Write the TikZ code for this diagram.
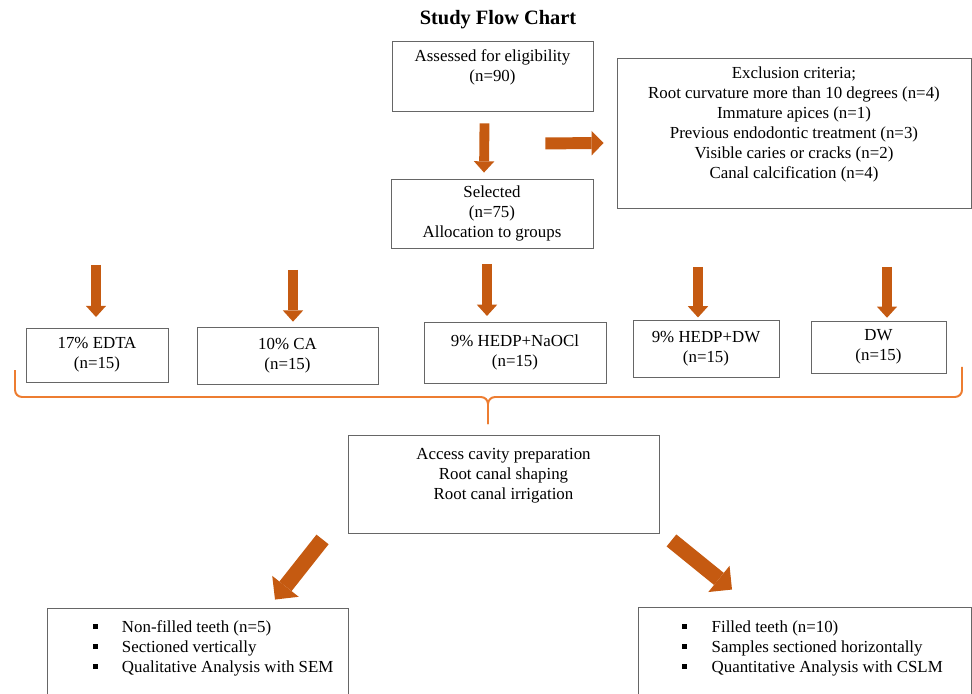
\documentclass[tikz,border=0pt]{standalone}
\usepackage{fontspec}
\setmainfont{Liberation Serif}
\usetikzlibrary{arrows.meta,calc}
\definecolor{arrowbrown}{HTML}{C55A11}
\definecolor{braceorange}{HTML}{ED7D31}
\newcommand{\sqbul}{\rule[2.4pt]{3.4pt}{3.4pt}}
\tikzset{
  box/.style={draw=black!60, line width=0.6pt, rectangle, align=center, inner sep=2pt, font=\fontsize{12}{14.2}\selectfont},
  txt/.style={font=\fontsize{12}{14.2}\selectfont, inner sep=0pt},
  fat/.style={draw=arrowbrown, line width=7pt, -{Triangle[width=14.5pt, length=8pt, line width=0pt]}},
  fatter/.style={draw=arrowbrown, line width=8.5pt, -{Triangle[width=17.5pt, length=8.5pt, line width=0pt]}},
  fattest/.style={draw=arrowbrown, line width=11pt, -{Triangle[width=24pt, length=12pt, line width=0pt]}},
  bracket/.style={draw=braceorange, line width=1.4pt, rounded corners=5pt}
}
\begin{document}
\begin{tikzpicture}[x=0.025cm, y=-0.025cm]
  \useasboundingbox (0,0) rectangle (972,694);
  \clip (0,0) rectangle (972,694);

  \node[font=\bfseries\fontsize{14.5}{17}\selectfont] (title) at (498,20) {Study Flow Chart};

  % screening
  \node[box, minimum width=50.25mm, minimum height=17.5mm] (assess) at (492.5,76) {Assessed for eligibility\\(n=90)\\\mbox{}};
  \node[box, minimum width=50.5mm, minimum height=17.25mm] (sel) at (492,213.5) {Selected\\(n=75)\\Allocation to groups};
  \node[box, minimum width=88.5mm, minimum height=37.5mm] (excl) at (794,133) {Exclusion criteria;\\Root curvature more than 10 degrees (n=4)\\Immature apices (n=1)\\Previous endodontic treatment (n=3)\\Visible caries or cracks (n=2)\\Canal calcification (n=4)\\\mbox{}};

  \draw[fat] ($(assess.south)+(-8,12)$) -- ($(sel.north)+(-8,-6)$);
  \draw[fatter] ($(assess.south east)+(-48,32)$) -- ($(excl.west)+(-13,10)$);

  % groups
  \node[box, minimum width=35.5mm, minimum height=13.5mm] (g1) at (97,355) {17\% EDTA\\(n=15)};
  \node[box, minimum width=45.25mm, minimum height=14.25mm] (g2) at (287.5,355.5) {10\% CA\\(n=15)};
  \node[box, minimum width=45.5mm, minimum height=15.25mm] (g3) at (515,352.5) {9\% HEDP+NaOCl\\(n=15)};
  \node[box, minimum width=36.5mm, minimum height=14.25mm] (g4) at (706,348.5) {9\% HEDP+DW\\(n=15)};
  \node[box, minimum width=33.75mm, minimum height=13mm] (g5) at (878.5,347) {DW\\(n=15)};

  \coordinate (d1) at (96,265);
  \coordinate (d2) at (293,270);
  \coordinate (d3) at (487,264);
  \coordinate (d4) at (698,267);
  \coordinate (d5) at (887,267);
  \draw[fat, shorten >=7.5pt] (d1) -- (d1 |- g1.north);
  \draw[fat, shorten >=3.5pt] (d2) -- (d2 |- g2.north);
  \draw[fat, shorten >=4pt] (d3) -- (d3 |- g3.north);
  \draw[fat, shorten >=1.5pt] (d4) -- (d4 |- g4.north);
  \draw[fat, shorten >=2pt] (d5) -- (d5 |- g5.north);

  % brace
  \draw[bracket] (15,370) |- (488,397) -- (488,424);
  \draw[bracket] (962,367) |- (488,397) -- (488,424);

  % procedure
  \node[box, minimum width=77.75mm, minimum height=24.5mm] (access) at (503.5,484) {Access cavity preparation\\Root canal shaping\\Root canal irrigation\\\mbox{}};

  \node[box, minimum width=75.25mm, minimum height=33mm] (lbox) at (197.5,674) {};
  \node[box, minimum width=83.25mm, minimum height=33.25mm] (rbox) at (804.5,673.5) {};
  \node[txt, anchor=north west] (nofill) at (93,618) {\begin{tabular}{@{}l@{\hspace{17pt}}l@{}}
    \sqbul & Non-filled teeth (n=5)\\
    \sqbul & Sectioned vertically\\
    \sqbul & Qualitative Analysis with SEM
  \end{tabular}};
  \node[txt, anchor=north west] (filled) at (682,618) {\begin{tabular}{@{}l@{\hspace{17.5pt}}l@{}}
    \sqbul & Filled teeth (n=10)\\
    \sqbul & Samples sectioned horizontally\\
    \sqbul & Quantitative Analysis with CSLM
  \end{tabular}};

  \draw[fattest] ($(access.south west)+(-25,6)$) -- ($(lbox.north)+(77.5,-8)$);
  \draw[fattest] ($(access.south east)+(12,7)$) -- ($(rbox.north)+(-72.5,-17)$);
\end{tikzpicture}
\end{document}
